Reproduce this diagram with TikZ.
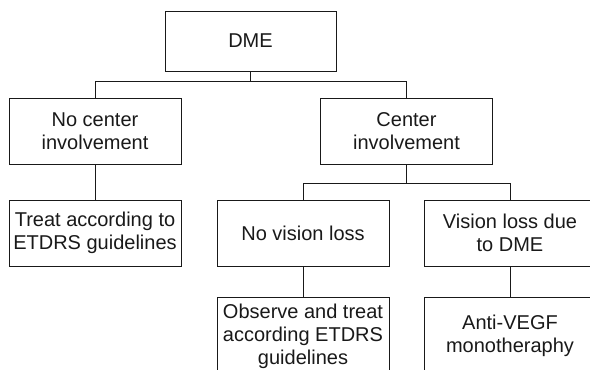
\documentclass[tikz,border=0pt]{standalone}
\usepackage{fontspec}
\setmainfont{Liberation Sans}
\begin{document}
\begin{tikzpicture}[x=1pt,y=-1pt,
  box/.style={draw=black!90, line width=0.9pt, inner sep=0pt, align=center,
    minimum width=172pt, minimum height=66pt,
    font=\fontsize{20}{23}\selectfont, text=black!90},
  link/.style={draw=black!90, line width=0.9pt}]
\useasboundingbox (0,0) rectangle (590,370);
\clip (0,0) rectangle (590,370);
\node[box, minimum width=171pt, minimum height=60pt] (dme) at (250.5,41) {DME};
\node[box] (nc) at (95,131) {No center\\involvement};
\node[box] (ci) at (406.5,131) {Center\\involvement};
\node[box] (tr) at (95,233) {Treat according to\\ETDRS guidelines};
\node[box] (nv) at (303,233) {No vision loss};
\node[box] (vl) at (510,233) {Vision loss due\\to DME};
\node[box, minimum height=78pt] (ob) at (303,336) {Observe and treat\\according ETDRS\\guidelines};
\node[box, minimum height=78pt] (av) at (510,336) {Anti-VEGF\\monotheraphy};
\coordinate (j1) at (250.5,81);
\coordinate (j2) at (406.5,183);
\draw[link] (dme.south) -- (j1);
\draw[link] (j1) -| (nc.north);
\draw[link] (j1) -| (ci.north);
\draw[link] (nc.south) -- (tr.north);
\draw[link] (ci.south) -- (j2);
\draw[link] (j2) -| (nv.north);
\draw[link] (j2) -| (vl.north);
\draw[link] (nv.south) -- (ob.north);
\draw[link] (vl.south) -- (av.north);
\end{tikzpicture}
\end{document}
